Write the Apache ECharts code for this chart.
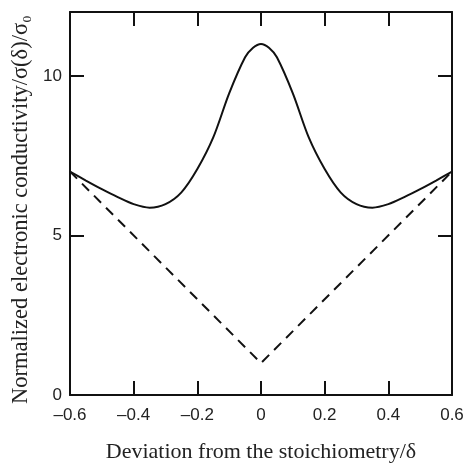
<!DOCTYPE html>
<html>
<head>
<meta charset="utf-8">
<script src="https://cdn.jsdelivr.net/npm/echarts@6/dist/echarts.min.js"></script>
<style>
html,body{margin:0;padding:0;background:#fff;}
#main{width:468px;height:463px;}
</style>
</head>
<body>
<div id="main"></div>
<script>
// 数据：偏离化学计量 δ 与归一化电导率
var xs = [-0.6, -0.55, -0.5, -0.45, -0.4, -0.35, -0.3, -0.25, -0.2, -0.15, -0.1, -0.05, -0.025, 0,
          0.025, 0.05, 0.1, 0.15, 0.2, 0.25, 0.3, 0.35, 0.4, 0.45, 0.5, 0.55, 0.6];
var solidY = [7.0, 6.72, 6.45, 6.2, 5.98, 5.87, 5.98, 6.35, 7.08, 8.07, 9.45, 10.58, 10.88, 11.0,
              10.88, 10.58, 9.45, 8.07, 7.08, 6.35, 5.98, 5.87, 5.98, 6.2, 6.45, 6.72, 7.0];
var dashX = [-0.6, 0, 0.6];
var dashY = [7.0, 1.0, 7.0];
var yTicks = [0, 5, 10];

function pairs(a, b){
    var out = [];
    for(var i = 0; i < a.length; i++){
        out.push([a[i], b[i]]);
    }
    return out;
}

var lineCol = '#111';
var axisLine = { show: true, onZero: false, lineStyle: { color: lineCol, width: 2 } };
var axisTick = { show: true, inside: true, length: 14, lineStyle: { color: lineCol, width: 2 } };
var labelFont = { fontFamily: 'Liberation Sans', fontSize: 17, color: '#222' };

var option = {
    animation: false,
    grid: { left: 70, right: 16, top: 12, bottom: 68, outerBoundsMode: 'none' },
    xAxis: [{
        type: 'value', min: -0.6, max: 0.6, interval: 0.2,
        axisLine: axisLine, axisTick: axisTick, splitLine: { show: false },
        axisLabel: {
            fontFamily: labelFont.fontFamily, fontSize: labelFont.fontSize, color: labelFont.color, margin: 12,
            formatter: function(v){
                var r = Math.round(v * 10) / 10;
                if(r === 0) return '0';
                return (r < 0 ? '\u2013' : '') + Math.abs(r).toFixed(1);
            }
        },
        name: 'Deviation from the stoichiometry/\u03b4',
        nameLocation: 'middle', nameGap: 46,
        nameTextStyle: { fontFamily: 'Liberation Serif', fontSize: 22, color: '#222' }
    }, {
        type: 'value', position: 'top', min: -0.6, max: 0.6, interval: 0.2,
        axisLine: axisLine, axisTick: axisTick, axisLabel: { show: false }, splitLine: { show: false }
    }],
    yAxis: [{
        type: 'value', min: 0, max: 12, interval: 5,
        axisLine: axisLine, axisTick: axisTick, splitLine: { show: false },
        axisLabel: {
            fontFamily: labelFont.fontFamily, fontSize: labelFont.fontSize, color: labelFont.color, margin: 8,
            formatter: function(v){ return yTicks.indexOf(v) >= 0 ? String(v) : ''; }
        },
        name: 'Normalized electronic conductivity/\u03c3(\u03b4)/\u03c3\u2080',
        nameLocation: 'middle', nameGap: 36,
        nameTextStyle: { fontFamily: 'Liberation Serif', fontSize: 22.5, color: '#222', padding: [0, 12, 0, 0] }
    }, {
        type: 'value', position: 'right', min: 0, max: 12, interval: 5,
        axisLine: axisLine, axisTick: axisTick, axisLabel: { show: false }, splitLine: { show: false }
    }],
    series: [{
        type: 'line', data: pairs(xs, solidY), smooth: 0.3, symbol: 'none',
        lineStyle: { color: lineCol, width: 2 }
    }, {
        type: 'line', data: pairs(dashX, dashY), symbol: 'none',
        lineStyle: { color: lineCol, width: 2, type: [10, 7] }
    }]
};

var chart = echarts.init(document.getElementById('main'));
chart.setOption(option);
</script>
</body>
</html>
